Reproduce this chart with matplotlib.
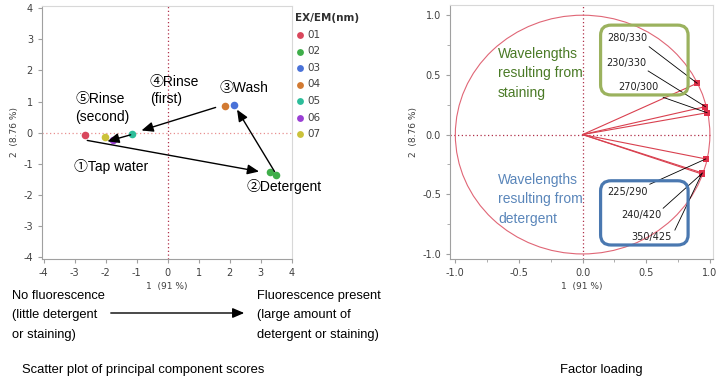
import matplotlib
matplotlib.use('Agg')
import matplotlib.pyplot as plt
from matplotlib.patches import FancyBboxPatch, Ellipse
import numpy as np

plt.rcParams['font.family'] = ['DejaVu Sans']
plt.rcParams['axes.unicode_minus'] = False

# ---- principal component scores (left) ----
score_grp = ['01', '02', '02', '03', '04', '05', '06', '07']
score_x = [-2.66, 3.31, 3.50, 2.15, 1.84, -1.15, -1.75, -2.02]
score_y = [-0.09, -1.28, -1.37, 0.90, 0.87, -0.05, -0.23, -0.15]
legend_grp = ['01', '02', '03', '04', '05', '06', '07']
grp_colors = {'01': '#d9475c', '02': '#3fae4a', '03': '#4a72d8', '04': '#d27a32',
              '05': '#2dbd9a', '06': '#9a3fd4', '07': '#cbc23a'}

# step labels and arrows (wash sequence)
step_text = ['\u2460Tap water', '\u2461Detergent', '\u2462Wash', '\u2463Rinse\n(first)', '\u2464Rinse\n(second)']
step_x = [-3.01, 2.56, 1.68, -0.57, -2.98]
step_y = [-1.10, -1.73, 1.43, 1.36, 0.79]
arrow_from = [(-2.59, -0.25), (3.45, -1.25), (1.55, 0.81), (-1.19, -0.07)]
arrow_to = [(2.95, -1.25), (2.24, 0.74), (-0.84, 0.07), (-1.94, -0.28)]

# ---- factor loadings (right) ----
load_names = ['280/330', '230/330', '270/300', '225/290', '240/420', '350/425']
load_x = [0.90, 0.965, 0.978, 0.968, 0.942, 0.936]
load_y = [0.43, 0.234, 0.183, -0.204, -0.322, -0.330]
label_x = [0.193, 0.188, 0.28, 0.193, 0.306, 0.385]
label_y = [0.807, 0.602, 0.396, -0.483, -0.673, -0.86]
leader_x = [0.523, 0.515, 0.633, 0.528, 0.633, 0.725]
leader_y = [0.736, 0.533, 0.312, -0.416, -0.617, -0.80]

ann_font = ['Liberation Sans', 'Noto Sans CJK JP', 'DejaVu Sans']
tick_col = '#404040'

fig = plt.figure(figsize=(7.2, 3.9), dpi=100)
ax1 = fig.add_axes([0.0583, 0.336, 0.3467, 0.6486])
ax2 = fig.add_axes([0.625, 0.336, 0.365, 0.651])

for ax in (ax1, ax2):
    for side in ('left', 'bottom'):
        ax.spines[side].set_color('#a0a0a0')
    for side in ('top', 'right'):
        ax.spines[side].set_color('#d8d8d8')
    ax.tick_params(colors='#a0a0a0', labelcolor=tick_col, labelsize=7, length=3, width=0.8)

# left: scores
ax1.axvline(0, color='#b0304a', ls=(0, (1, 2)), lw=0.9, zorder=1)
ax1.axhline(0, color='#e89090', ls=(0, (1, 2)), lw=0.9, zorder=1)
sx = np.array(score_x)
sy = np.array(score_y)
sg = np.array(score_grp)
for g in legend_grp:
    m = sg == g
    ax1.scatter(sx[m], sy[m], s=30, color=grp_colors[g], label=g, zorder=3, linewidths=0)

for (x0, y0), (x1, y1) in zip(arrow_from, arrow_to):
    ax1.annotate('', xy=(x1, y1), xytext=(x0, y0),
                 arrowprops=dict(arrowstyle='-|>,head_length=0.7,head_width=0.3',
                                 color='black', lw=1.0, shrinkA=0, shrinkB=0), zorder=4)
for t, x, y in zip(step_text, step_x, step_y):
    ax1.text(x, y, t, family=ann_font, fontsize=10, ha='left', va='center',
             linespacing=1.3, zorder=5)

ax1.set_xlim(-4.05, 4.0)
ax1.set_ylim(-4.06, 4.07)
ax1.set_xticks(range(-4, 5))
ax1.set_yticks(range(-4, 5))
ax1.set_xlabel('1  (91 %)', fontsize=6.5, color=tick_col, labelpad=3)
ax1.set_ylabel('2  (8.76 %)', fontsize=6.5, color=tick_col, labelpad=3)

leg = ax1.legend(loc='upper left', bbox_to_anchor=(1.005, 0.98), frameon=False,
                 title='EX/EM(nm)', fontsize=7.5, handletextpad=0.2, handlelength=1.0,
                 labelspacing=0.63, borderaxespad=0.2, borderpad=0, markerscale=0.9)
leg.get_title().set_fontweight('bold')
leg.get_title().set_fontsize(7.5)
leg.get_title().set_color('#303030')
leg._legend_box.align = 'left'
for txt in leg.get_texts():
    txt.set_color('#404040')

# right: factor loading
ax2.axvline(0, color='#b0304a', ls=(0, (1, 2)), lw=0.9, zorder=1)
ax2.axhline(0, color='#b0304a', ls=(0, (1, 2)), lw=0.9, zorder=1)
ax2.add_patch(Ellipse((0, 0), 2, 2, fill=False, edgecolor='#e06676', lw=0.8, zorder=2))
for x, y in zip(load_x, load_y):
    ax2.plot([0, x], [0, y], color='#d9404f', lw=0.8, zorder=3)
ax2.scatter(load_x, load_y, s=22, marker='s', color='#e0304a', zorder=4, linewidths=0)
for name, lx, ly, qx, qy, px, py in zip(load_names, label_x, label_y, leader_x, leader_y, load_x, load_y):
    ax2.text(lx, ly, name, fontsize=7, ha='left', va='center', color='#202020', zorder=6)
    ax2.plot([qx, px], [qy, py], color='black', lw=0.6, zorder=5)

ax2.add_patch(FancyBboxPatch((0.573, 0.646), 0.333, 0.275, transform=ax2.transAxes,
                             boxstyle='round,pad=0,rounding_size=0.04', fill=False,
                             edgecolor='#9bb25e', lw=2.3, zorder=5))
ax2.add_patch(FancyBboxPatch((0.573, 0.055), 0.333, 0.253, transform=ax2.transAxes,
                             boxstyle='round,pad=0,rounding_size=0.04', fill=False,
                             edgecolor='#4a78b0', lw=2.3, zorder=5))
ax2.text(-0.665, 0.513, 'Wavelengths\nresulting from\nstaining', family=ann_font, fontsize=10,
         color='#4a7a26', ha='left', va='center', linespacing=1.5, zorder=6)
ax2.text(-0.665, -0.542, 'Wavelengths\nresulting from\ndetergent', family=ann_font, fontsize=10,
         color='#5a86ba', ha='left', va='center', linespacing=1.5, zorder=6)

ax2.set_xlim(-1.042, 1.023)
ax2.set_ylim(-1.042, 1.085)
ax2.set_xticks([-1.0, -0.5, 0.0, 0.5, 1.0])
ax2.set_yticks([-1.0, -0.5, 0.0, 0.5, 1.0])
ax2.set_xticks(np.arange(-0.75, 1.0, 0.5), minor=True)
ax2.set_yticks(np.arange(-0.75, 1.0, 0.5), minor=True)
ax2.tick_params(which='minor', length=2, colors='#a0a0a0')
ax2.xaxis.set_major_formatter(matplotlib.ticker.FormatStrFormatter('%.1f'))
ax2.yaxis.set_major_formatter(matplotlib.ticker.FormatStrFormatter('%.1f'))
ax2.set_xlabel('1  (91 %)', fontsize=6.5, color=tick_col, labelpad=3)
ax2.set_ylabel('2  (8.76 %)', fontsize=6.5, color=tick_col, labelpad=3)

# bottom notes
fig.text(0.016, 0.256, 'No fluorescence\n(little detergent\nor staining)', family=ann_font,
         fontsize=9.3, va='top', ha='left', linespacing=1.8)
fig.text(0.357, 0.256, 'Fluorescence present\n(large amount of\ndetergent or staining)', family=ann_font,
         fontsize=9.3, va='top', ha='left', linespacing=1.8)
fig.text(0.030, 0.051, 'Scatter plot of principal component scores', family=ann_font,
         fontsize=9.4, va='center', ha='left')
fig.text(0.835, 0.051, 'Factor loading', family=ann_font, fontsize=9.4, va='center', ha='center')
fig.add_artist(matplotlib.patches.FancyArrowPatch((108 / 720, 1 - 313 / 390), (247 / 720, 1 - 313 / 390),
               transform=fig.transFigure, arrowstyle='-|>,head_length=0.7,head_width=0.3',
               color='black', lw=1.0, mutation_scale=10))

fig.savefig('out.png', dpi=100)
